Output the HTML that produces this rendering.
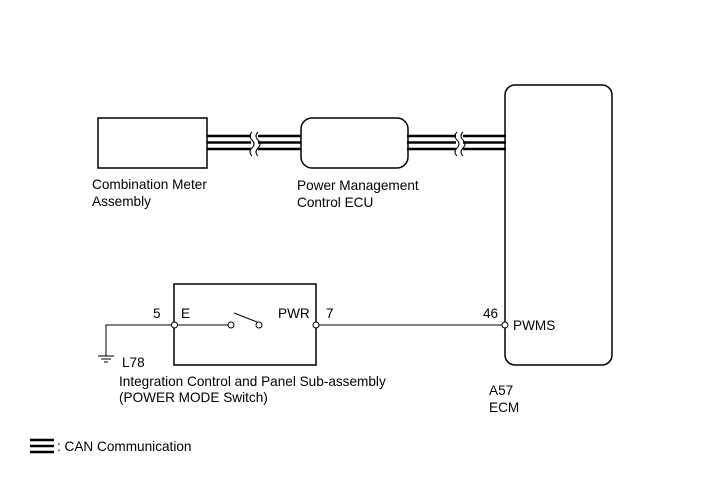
<!DOCTYPE html>
<html><head><style>
body{margin:0;background:#fff;}
svg text{font-family:"Liberation Sans",sans-serif;font-size:13.6px;fill:#000;}
</style></head><body>
<svg width="713" height="481" viewBox="0 0 713 481" xmlns="http://www.w3.org/2000/svg">
<g fill="none" stroke="#000">
<g stroke-width="2.6">
<line x1="207" y1="136" x2="251" y2="136"/><line x1="207" y1="142.5" x2="251" y2="142.5"/><line x1="207" y1="149" x2="251" y2="149"/>
<line x1="258" y1="136" x2="301" y2="136"/><line x1="258" y1="142.5" x2="301" y2="142.5"/><line x1="258" y1="149" x2="301" y2="149"/>
<line x1="407" y1="136" x2="456" y2="136"/><line x1="407" y1="142.5" x2="456" y2="142.5"/><line x1="407" y1="149" x2="456" y2="149"/>
<line x1="463" y1="136" x2="506" y2="136"/><line x1="463" y1="142.5" x2="506" y2="142.5"/><line x1="463" y1="149" x2="506" y2="149"/>
</g>
<g stroke-width="1">
<path d="M252 132 q-4 4 0 8 q4 4 0 8 q-4 4 0 8"/><path d="M258 132 q-4 4 0 8 q4 4 0 8 q-4 4 0 8"/>
<path d="M457 132 q-4 4 0 8 q4 4 0 8 q-4 4 0 8"/><path d="M463 132 q-4 4 0 8 q4 4 0 8 q-4 4 0 8"/>
</g>
<g stroke-width="1.5">
<rect x="98" y="118" width="109" height="50"/>
<rect x="301" y="118" width="107" height="50" rx="11"/>
<rect x="505" y="85" width="107" height="280" rx="10"/>
<rect x="174" y="284" width="142" height="81"/>
</g>
<g stroke-width="1">
<polyline points="106,356 106,325 174,325"/>
<line x1="174" y1="325" x2="228" y2="325"/>
<line x1="316" y1="325" x2="505" y2="325"/>
<line x1="234" y1="313" x2="257" y2="322"/>
<line x1="98" y1="356" x2="114" y2="356"/>
<line x1="101" y1="359" x2="111" y2="359"/>
<line x1="104" y1="362" x2="108" y2="362"/>
</g>
<g fill="#fff" stroke-width="1">
<circle cx="174.5" cy="325" r="3"/><circle cx="231" cy="325" r="3"/><circle cx="259" cy="325" r="3"/>
<circle cx="316" cy="325" r="3"/><circle cx="505" cy="325" r="3"/>
</g>
<g stroke-width="2.6">
<line x1="30" y1="440" x2="54" y2="440"/><line x1="30" y1="446" x2="54" y2="446"/><line x1="30" y1="452" x2="54" y2="452"/>
</g>
</g>
<text x="92" y="189">Combination Meter</text>
<text x="92" y="206">Assembly</text>
<text x="297" y="190">Power Management</text>
<text x="297" y="207">Control ECU</text>
<text x="153" y="318">5</text>
<text x="181" y="318">E</text>
<text x="278" y="318">PWR</text>
<text x="326" y="318">7</text>
<text x="483" y="318">46</text>
<text x="513" y="330">PWMS</text>
<text x="122" y="367">L78</text>
<text x="119" y="386">Integration Control and Panel Sub-assembly</text>
<text x="119" y="402">(POWER MODE Switch)</text>
<text x="489" y="395">A57</text>
<text x="489" y="412">ECM</text>
<text x="57" y="451">: CAN Communication</text>
</svg>
</body></html>
